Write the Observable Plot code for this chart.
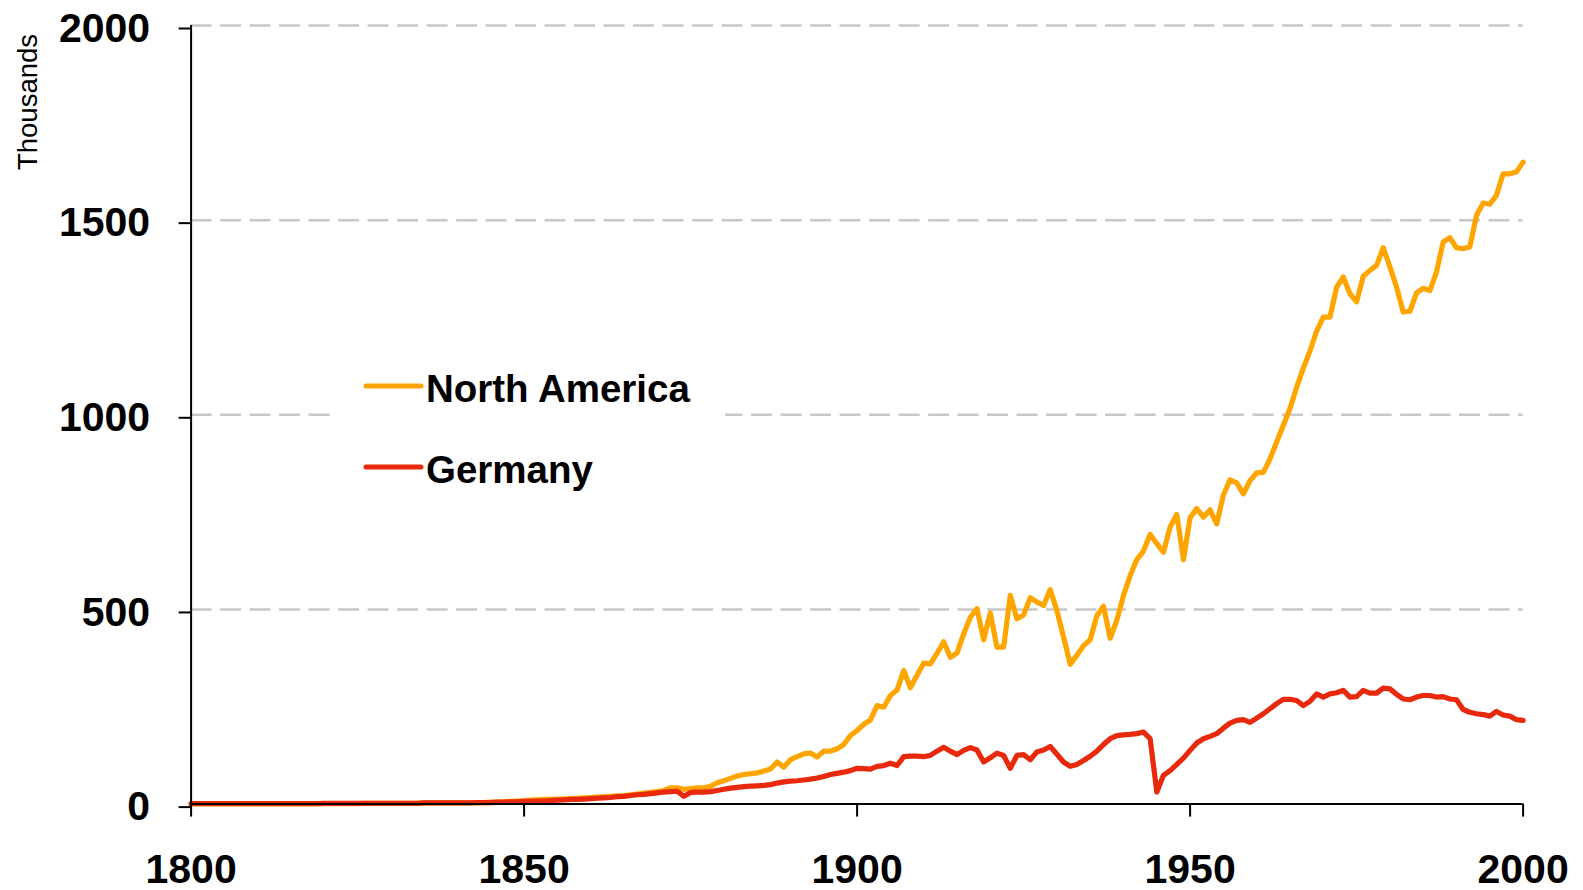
<!DOCTYPE html>
<html>
<head>
<meta charset="utf-8">
<script src="https://cdn.jsdelivr.net/npm/d3@7"></script>
<script src="https://cdn.jsdelivr.net/npm/@observablehq/plot@0.6"></script>
<style>
  html, body { margin: 0; padding: 0; background: #fff; }
  #chart { position: relative; width: 1583px; height: 890px; }
</style>
</head>
<body>
<div id="chart"></div>
<script>
const years = d3.range(1800, 2001);
const northAmerica = [
  1,1,1,1,1,1,1,1,1,1,
  1,1,1,1,1,1,1,1,1,1,
  1,1,1,1,1,1,2,2,2,2,
  2,2,2,2,2,3,3,3,3,3,
  3,3,4,4,4,5,5,6,7,8,
  9,10,11,12,12,13,13,14,15,16,
  17,18,19,20,21,22,24,26,28,30,
  32,35,42,42,38,40,42,42,46,55,
  60,66,72,76,78,80,85,90,108,95,
  114,122,129,131,121,136,136,142,153,176,
  189,205,216,253,249,279,293,343,299,331,
  362,360,387,417,377,388,437,480,502,422,
  491,403,403,536,476,486,530,519,510,551,
  497,429,359,382,407,422,484,508,426,472,
  536,587,628,650,693,669,647,712,744,628,
  736,759,737,756,720,794,833,825,797,831,
  851,852,887,930,973,1016,1071,1120,1164,1215,
  1251,1251,1328,1354,1311,1290,1356,1371,1384,1429,
  1380,1328,1264,1266,1313,1325,1319,1367,1444,1455,
  1429,1427,1431,1512,1544,1541,1564,1619,1619,1624,
  1649
];
const germany = [
  1,1,1,1,1,1,1,1,1,1,
  1,1,1,1,1,1,1,1,1,1,
  2,2,2,2,2,2,2,2,2,2,
  2,2,2,2,2,3,3,3,3,3,
  3,3,3,4,4,4,5,5,6,6,
  7,7,8,8,9,10,11,12,12,13,
  14,15,16,17,19,20,22,24,25,27,
  29,31,32,33,20,30,31,31,32,35,
  38,41,43,45,46,47,48,50,54,57,
  59,60,62,64,67,71,76,79,82,86,
  92,91,90,97,99,105,99,122,123,123,
  122,125,136,146,136,127,138,145,139,108,
  119,131,125,92,125,127,114,134,139,148,
  128,108,97,102,112,123,136,153,168,176,
  178,179,181,185,168,31,74,86,102,118,
  138,157,168,174,181,195,208,215,217,210,
  221,232,245,258,269,269,266,253,264,283,
  275,283,286,292,275,276,292,285,285,298,
  296,282,270,268,275,279,279,275,276,270,
  268,243,236,232,230,226,238,229,226,217,
  215
];
const seriesNames = ["North America", "Germany"];
const seriesColors = ["#FFA500", "#E8290B"];
const xTicks = [1800, 1850, 1900, 1950, 2000];
const yTicks = [0, 500, 1000, 1500, 2000];
const gridValues = [500, 1000, 1500, 2000];
const yLabel = "Thousands";

const font = "'Liberation Sans', Arial, Helvetica, sans-serif";

const naData = years.map((y, i) => ({year: y, value: northAmerica[i]}));
const deData = years.map((y, i) => ({year: y, value: germany[i]}));

const chart = Plot.plot({
  width: 1583,
  height: 890,
  marginLeft: 190.6,
  marginRight: 60.4,
  marginTop: 25,
  marginBottom: 86.4,
  x: {domain: [1800, 2000]},
  y: {domain: [0, 2000]},
  style: {fontFamily: font, background: "white", color: "black", overflow: "visible"},
  marks: [
    Plot.ruleY(gridValues, {stroke: "#c8c8c8", strokeWidth: 2.5, strokeDasharray: "21,8.5"}),
    Plot.line(naData, {x: "year", y: "value", stroke: seriesColors[0], strokeWidth: 5.2, strokeLinejoin: "round", strokeLinecap: "round"}),
    Plot.line(deData, {x: "year", y: "value", stroke: seriesColors[1], strokeWidth: 5.2, strokeLinejoin: "round", strokeLinecap: "round"}),
    Plot.ruleX([1800], {stroke: "black", strokeWidth: 2}),
    Plot.ruleY([0], {stroke: "black", strokeWidth: 2}),
    Plot.axisY({ticks: yTicks, tickFormat: d => String(d), tickSize: 12, tickPadding: 29, fontSize: 41, fontWeight: "bold", dy: 3, label: null, strokeWidth: 2}),
    Plot.axisX({ticks: xTicks, tickFormat: d => String(d), tickSize: 13, tickPadding: 36.5, fontSize: 41, fontWeight: "bold", label: null, strokeWidth: 2})
  ]
});

document.getElementById("chart").appendChild(chart);

const svg = d3.select(chart);
svg.append("text")
  .attr("transform", "translate(37,102) rotate(-90)")
  .attr("text-anchor", "middle")
  .attr("font-family", font)
  .attr("font-size", 27.5)
  .attr("fill", "black")
  .text(yLabel);

const legend = svg.append("g").attr("text-anchor", "start");
legend.append("rect").attr("x", 330).attr("y", 358).attr("width", 395).attr("height", 135).attr("fill", "white");
const legendRows = [386, 467];
seriesNames.forEach((name, i) => {
  legend.append("line")
    .attr("x1", 366).attr("x2", 421)
    .attr("y1", legendRows[i]).attr("y2", legendRows[i])
    .attr("stroke", seriesColors[i]).attr("stroke-width", 5).attr("stroke-linecap", "round");
  legend.append("text")
    .attr("x", 426).attr("y", legendRows[i] + 16)
    .attr("text-anchor", "start")
    .attr("font-family", font).attr("font-size", 38.5).attr("font-weight", "bold")
    .attr("fill", "black")
    .text(name);
});
</script>
</body>
</html>
